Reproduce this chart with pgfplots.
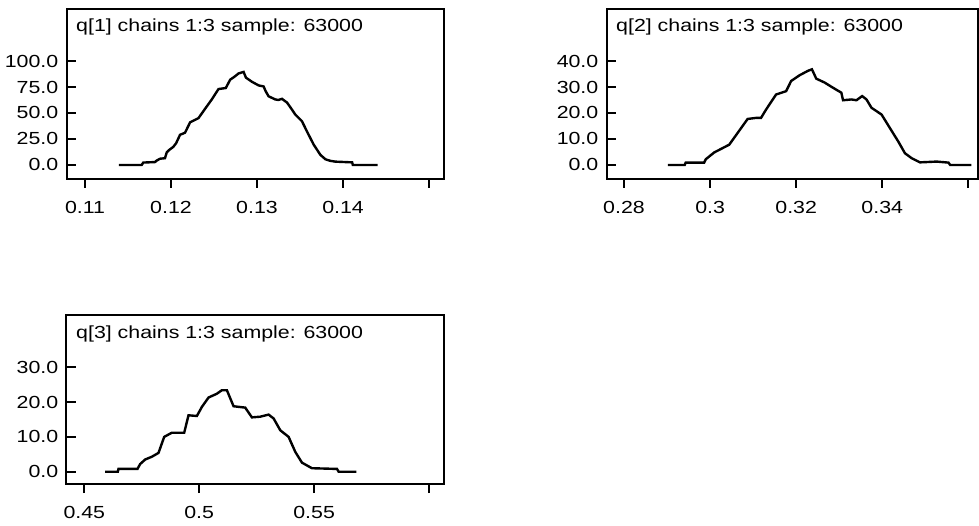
\documentclass[border=0pt]{standalone}
\usepackage{fontspec}
\setmainfont{Liberation Sans}[FakeStretch=1.22]
\usepackage{pgfplots}
\pgfplotsset{compat=1.18}
\pgfplotsset{
  dens/.style={
    scale only axis,
    anchor=south west,
    tick pos=left,
    xtick align=outside,
    ytick align=inside,
    major tick length=9pt,
    axis line style={line width=2pt},
    every tick/.style={black, line width=2pt},
    /pgf/number format/assume math mode=true,
    yticklabel style={/pgf/number format/fixed, /pgf/number format/fixed zerofill, /pgf/number format/precision=1, /pgf/number format/1000 sep={}},
    yticklabel style={inner sep=0pt, xshift=-8pt, font=\fontsize{17.5}{20}\selectfont},
    xticklabel style={inner sep=0pt, yshift=-13.5pt, font=\fontsize{17.5}{20}\selectfont},
    clip=false,
  },
  curve/.style={black, line width=2.4pt, line join=miter, miter limit=2, mark=none},
}
\begin{document}
\begin{tikzpicture}[font=\fontsize{17.5}{20}\selectfont]
\useasboundingbox (0,0) rectangle (979pt,-526pt);

% q[1]
\begin{axis}[dens,
  at={(66.5pt,-179pt)}, width=377.5pt, height=170pt,
  xmin=0.10785, xmax=0.15174, ymin=-13.5, ymax=150,
  xtick={0.11,0.12,0.13,0.14,0.15},
  xticklabels={0.11,0.12,0.13,0.14,{}},
  ytick={0,25,50,75,100}]
\addplot[curve] coordinates {
(0.11394,0) (0.11659,0) (0.11678,2.3) (0.11814,2.8) (0.11830,4.0) (0.11872,6.0) (0.11930,6.5)
(0.11950,12.0) (0.11980,14.5) (0.12028,17.5) (0.12060,21) (0.12105,29) (0.12163,31) (0.12222,41) (0.12270,43) (0.12319,45)
(0.12396,54) (0.12474,63) (0.12552,73) (0.12637,74) (0.12688,82) (0.12740,85) (0.12785,88)
(0.12844,89.5) (0.12871,84) (0.12941,80) (0.13019,76.5) (0.13077,75.5) (0.13100,71) (0.13135,66)
(0.13213,63) (0.13250,62.5) (0.13290,63.6) (0.13349,60) (0.13400,54) (0.13445,48.5) (0.13523,42) (0.13582,32)
(0.13660,19.4) (0.13737,9.7) (0.13795,5.5) (0.13850,4.0) (0.13911,3.2) (0.14106,2.5) (0.14114,0)
(0.14401,0)};
\node[anchor=base west, inner sep=0pt, xshift=9.5pt, yshift=-22.7pt] at (rel axis cs:0,1) {q[1] chains 1:3 sample: 63000};
\end{axis}

% q[2]
\begin{axis}[dens,
  at={(606.5pt,-179pt)}, width=371.5pt, height=170pt,
  xmin=0.27593, xmax=0.36225, ymin=-5.4, ymax=60,
  xtick={0.28,0.30,0.32,0.34,0.36},
  xticklabels={0.28,0.3,0.32,0.34,{}},
  ytick={0,10,20,30,40}]
\addplot[curve] coordinates {
(0.29021,0) (0.29410,0) (0.29433,0.9) (0.29861,0.9) (0.29900,2.2) (0.30094,4.8)
(0.30444,7.8) (0.30639,12.3) (0.30872,17.7) (0.31067,18.1) (0.31183,18.1) (0.31300,21.3)
(0.31533,27.1) (0.31767,28.4) (0.31883,32.3) (0.32078,34.5) (0.32272,36.2) (0.32366,36.8)
(0.32467,33.2) (0.32661,31.7) (0.32856,29.7) (0.33050,27.8) (0.33089,24.9) (0.33284,25.2)
(0.33400,24.9) (0.33533,26.5) (0.33634,25.2) (0.33750,22.0) (0.33984,19.4) (0.34178,14.2)
(0.34373,9.0) (0.34528,4.5) (0.34684,2.6) (0.34878,1.0) (0.35267,1.3) (0.35539,0.9)
(0.35578,0) (0.36068,0)};
\node[anchor=base west, inner sep=0pt, xshift=9.5pt, yshift=-22.7pt] at (rel axis cs:0,1) {q[2] chains 1:3 sample: 63000};
\end{axis}

% q[3]
\begin{axis}[dens,
  at={(66.5pt,-484pt)}, width=377.5pt, height=169pt,
  xmin=0.44225, xmax=0.60653, ymin=-3.53, ymax=45,
  xtick={0.45,0.5,0.55,0.6},
  xticklabels={0.45,0.5,0.55,{}},
  ytick={0,10,20,30}]
\addplot[curve] coordinates {
(0.45906,0) (0.46460,0) (0.46487,0.8) (0.47314,0.8) (0.47430,2.2) (0.47648,3.5)
(0.47939,4.3) (0.48229,5.4) (0.48476,10.0) (0.48810,11.2) (0.49347,11.2) (0.49535,16.2)
(0.49899,16.0) (0.50116,18.6) (0.50406,21.3) (0.50770,22.4) (0.50987,23.4) (0.51205,23.4)
(0.51495,18.8) (0.52003,18.4) (0.52294,15.6) (0.52657,15.8) (0.53019,16.4) (0.53237,15.3)
(0.53528,11.9) (0.53891,10.0) (0.54181,5.7) (0.54472,2.6) (0.54907,1.0) (0.55996,0.8)
(0.56068,0) (0.56838,0)};
\node[anchor=base west, inner sep=0pt, xshift=9.5pt, yshift=-23pt] at (rel axis cs:0,1) {q[3] chains 1:3 sample: 63000};
\end{axis}
\end{tikzpicture}
\end{document}
